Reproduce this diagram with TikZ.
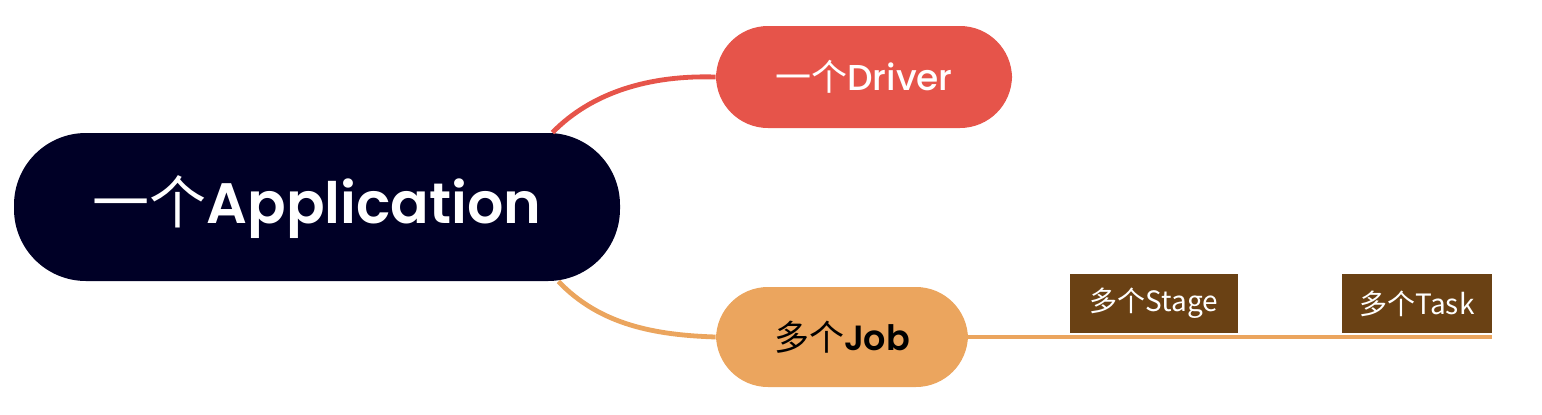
\documentclass[tikz,border=0pt]{standalone}
\usepackage{fontspec}
\setmainfont{Poppins}[BoldFont={* SemiBold}]
\newfontfamily\medium{Poppins Medium}
\newfontfamily\cjk{Noto Sans CJK SC}
\usetikzlibrary{positioning}

\definecolor{appnavy}{HTML}{000026}
\definecolor{driverred}{HTML}{E6544A}
\definecolor{joborange}{HTML}{EBA55E}
\definecolor{stagebrown}{HTML}{6A4114}

\tikzset{
    pill/.style={rounded corners=26pt, inner sep=0pt},
    tag/.style={fill=stagebrown, text=white, inner sep=0pt, minimum width=84pt, minimum height=29.5pt, font=\cjk\fontsize{14}{16}\selectfont},
    branch/.style={line width=2.4pt}
}

\begin{document}
\begin{tikzpicture}[x=0.5pt,y=-0.5pt]
    \useasboundingbox (0,0) rectangle (1542,414);

    \node[pill, rounded corners=36pt, fill=appnavy, text=white, minimum width=303pt, minimum height=74pt,
        font=\bfseries\fontsize{28.5}{32}\selectfont] (app) at (317,207) {{\cjk\mdseries 一个}Application};

    \node[pill, fill=driverred, text=white, minimum width=148pt, minimum height=51pt,
        font=\medium\fontsize{18}{21}\selectfont] (driver) at (864,77) {{\cjk 一个}Driver};

    \node[pill, fill=joborange, text=black, minimum width=126pt, minimum height=50pt,
        font=\bfseries\fontsize{17.5}{20}\selectfont] (job) at (842,337) {{\cjk\mdseries 多个}Job};

    % the two tags sit on the job line
    \node[tag] (stage) at (1154,303.5) {多个Stage};
    \node[tag, minimum width=75pt] (task) at (1417,303.5) {多个Task};

    \draw[branch, driverred] ([xshift=-34pt]app.north east) .. controls (592,92) and (650,75) .. (driver.west);
    \draw[branch, joborange] ([xshift=-31pt]app.south east) .. controls (600,325) and (655,335) .. (job.west);
    \draw[branch, joborange] (job.east) -- (task.south east |- job.east);
\end{tikzpicture}
\end{document}
